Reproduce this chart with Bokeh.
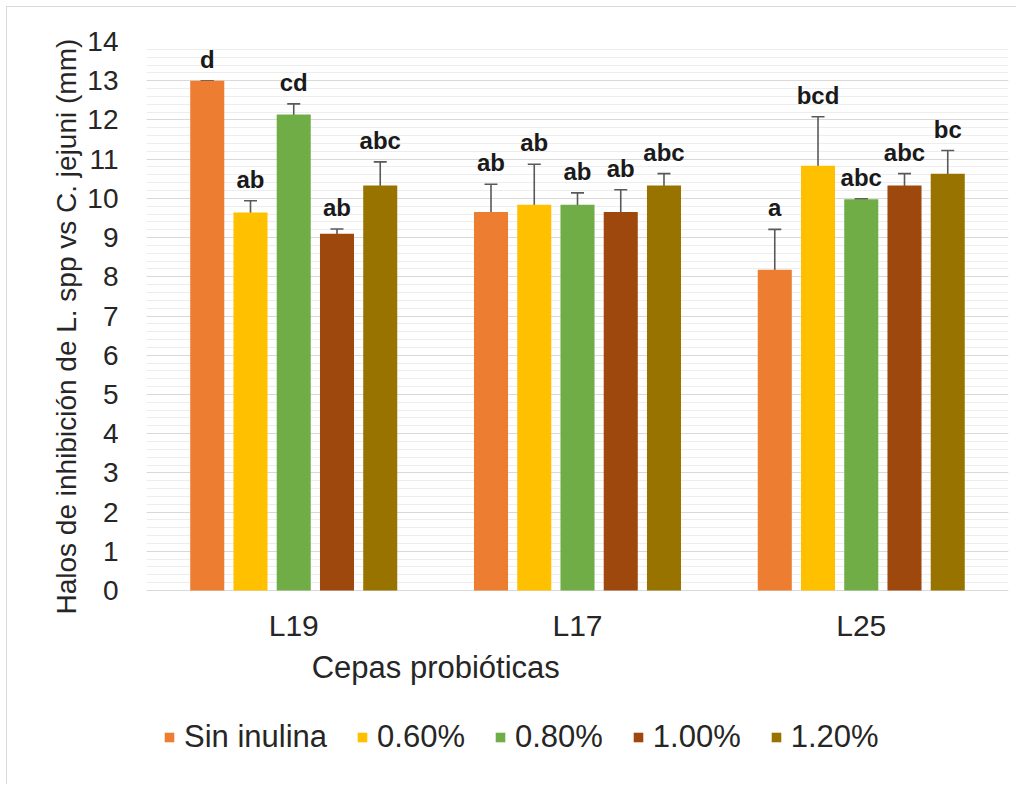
from bokeh.plotting import figure
from bokeh.models import (FactorRange, Range1d, ColumnDataSource, Whisker, TeeHead,
                          Legend, LegendItem, Title, FixedTicker)
from bokeh.transform import dodge
from bokeh.core.properties import value
from bokeh.embed import file_html
from bokeh.resources import INLINE

# ---- data ----
cepas = ["L19", "L17", "L25"]
series = ["Sin inulina", "0.60%", "0.80%", "1.00%", "1.20%"]
colors = ["#ED7D31", "#FFC000", "#70AD47", "#9E480E", "#997300"]

sin_inulina = [13.00, 9.65, 8.18]
inul_060 = [9.64, 9.84, 10.83]
inul_080 = [12.14, 9.84, 9.98]
inul_100 = [9.10, 9.65, 10.33]
inul_120 = [10.33, 10.33, 10.63]

err_sin = [0.00, 0.71, 1.03]
err_060 = [0.30, 1.03, 1.25]
err_080 = [0.27, 0.30, 0.00]
err_100 = [0.12, 0.57, 0.30]
err_120 = [0.60, 0.30, 0.59]

let_sin = ["d", "ab", "a"]
let_060 = ["ab", "ab", "bcd"]
let_080 = ["cd", "ab", "abc"]
let_100 = ["ab", "ab", "abc"]
let_120 = ["abc", "abc", "bc"]

y_ticks = list(range(0, 15))
y_minor_ticks = [round(i * 0.2, 1) for i in range(0, 71)]

values = [sin_inulina, inul_060, inul_080, inul_100, inul_120]
errors = [err_sin, err_060, err_080, err_100, err_120]
letters = [let_sin, let_060, let_080, let_100, let_120]

FONT = "Liberation Sans"
TXT = "#262626"

p = figure(x_range=FactorRange(factors=cepas, range_padding=0.0126),
           y_range=Range1d(-4.335, 14),
           frame_width=862, frame_height=719,
           min_border_left=139, min_border_top=34, min_border_right=8,
           min_border_bottom=24,
           output_backend="svg", toolbar_location=None)
p.styles = {"border-top": "1px solid #D9D9D9", "border-left": "1px solid #D9D9D9",
            "margin-left": "6px", "margin-top": "6px"}
p.outline_line_color = None
p.background_fill_color = "white"
p.border_fill_color = "white"

# grid
p.xgrid.grid_line_color = None
p.yaxis.ticker = FixedTicker(ticks=y_ticks, minor_ticks=y_minor_ticks)
p.ygrid.grid_line_color = "#D9D9D9"
p.ygrid.grid_line_width = 1.2
p.ygrid.minor_grid_line_color = "#EDEDED"
p.ygrid.minor_grid_line_width = 1

# y axis
p.yaxis.axis_line_color = None
p.yaxis.major_tick_line_color = None
p.yaxis.minor_tick_line_color = None
p.yaxis.major_label_text_font = FONT
p.yaxis.major_label_text_font_size = "28px"
p.yaxis.major_label_text_color = TXT
p.yaxis.major_label_standoff = 22

ytitle = Title(text="Halos de inhibición de L. spp vs C. jejuni (mm)",
               align="left", offset=146,
               text_font=FONT, text_font_size="28px", text_font_style="normal",
               text_color=TXT, standoff=6)
p.add_layout(ytitle, "left")

# x axis (category labels drawn at y=0 of the value scale)
p.xaxis.visible = False
cat_src = ColumnDataSource(dict(cepa=cepas, base=[0] * len(cepas)))
p.text(x="cepa", y="base", text="cepa", source=cat_src,
       text_font=value(FONT), text_font_size="30px", text_color=TXT,
       text_align="center", text_baseline="middle", y_offset=35)
p.text(x=["L19"], y=[0], text=["Cepas probióticas"],
       text_font=value(FONT), text_font_size="31px", text_color=TXT,
       text_align="center", text_baseline="middle", x_offset=142, y_offset=77)

offsets = [-0.3048, -0.1524, 0.0, 0.1524, 0.3048]
bar_w = 0.12

legend_items = []
for i, name in enumerate(series):
    v = values[i]
    e = errors[i]
    src = ColumnDataSource(dict(
        cepa=cepas, val=v, err=e,
        upper=[a + b for a, b in zip(v, e)],
        lower=[a - b for a, b in zip(v, e)],
        lab=letters[i]))
    xs = dodge("cepa", offsets[i], range=p.x_range)
    r = p.vbar(x=xs, top="val", bottom=0, width=bar_w, source=src,
               fill_color=colors[i], line_color=None)
    legend_items.append(LegendItem(label=name, renderers=[r]))
    w = Whisker(base=xs, upper="upper", lower="lower", source=src,
                line_color="#595959", line_width=1.6,
                upper_head=TeeHead(size=13, line_color="#595959", line_width=1.6),
                lower_head=TeeHead(size=13, line_color="#595959", line_width=1.6))
    p.add_layout(w)
    p.text(x=xs, y="upper", text="lab", source=src,
           text_font=value(FONT), text_font_style="bold",
           text_font_size="24px", text_color="#1A1A1A",
           text_align="center", text_baseline="bottom", y_offset=-8)

legend = Legend(items=legend_items, orientation="horizontal",
                location=(17, 5),
                label_text_font=FONT, label_text_font_size="31px",
                label_text_color=TXT, label_height=30,
                glyph_width=12, glyph_height=12, label_standoff=9,
                spacing=29, padding=0, margin=0,
                border_line_color=None, background_fill_alpha=0)
p.add_layout(legend, "center")

open("out.html", "w").write(file_html(p, INLINE))
